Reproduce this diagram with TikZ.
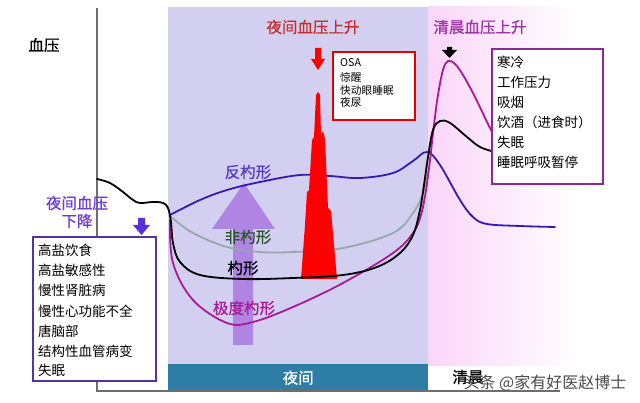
\documentclass[tikz,border=0pt]{standalone}
\usepackage{fontspec}
\setmainfont{Noto Sans CJK SC}
\newfontfamily\heavycjk[FakeBold=0.8]{Noto Sans CJK SC}
\begin{document}
\begin{tikzpicture}[x=1pt,y=-1pt,
  lbl/.style={inner sep=0pt, font=\heavycjk\fontsize{15.5}{16}\selectfont},
  boxtxt/.style={inner sep=0pt, anchor=west, font=\fontsize{13.5}{14}\selectfont},
  redtxt/.style={inner sep=0pt, anchor=west, font=\fontsize{10.7}{11}\selectfont},
  frame/.style={draw, line width=1.8pt, fill=white, inner sep=0pt},
  curve/.style={line width=1.8pt, line join=round, line cap=round}]
\definecolor{lav}{RGB}{211,207,240}
\definecolor{pinkbg}{RGB}{250,214,248}
\definecolor{barc}{RGB}{45,125,165}
\definecolor{bluec}{RGB}{55,25,180}
\definecolor{magc}{RGB}{170,25,150}
\definecolor{grayc}{RGB}{150,168,172}
\definecolor{arrc}{RGB}{176,132,226}
\definecolor{purtxt}{RGB}{110,60,210}
\definecolor{redtitle}{RGB}{200,45,45}
\definecolor{mortitle}{RGB}{160,50,170}
\definecolor{leftbox}{RGB}{85,50,165}
\definecolor{rightbox}{RGB}{140,40,150}
\definecolor{greentxt}{RGB}{45,85,45}
\definecolor{axisc}{RGB}{110,110,110}
\useasboundingbox (0,0) rectangle (640,403);
\fill[white] (0,0) rectangle (640,403);
% backgrounds
\fill[lav] (168,7) rectangle (428,364);
\shade[left color=pinkbg, right color=white] (428,7) rectangle (578,365);
\node[fill=barc, minimum width=260, minimum height=27, inner sep=0pt, anchor=north west] (bar) at (168,364) {};
\node[lbl, text=white] (night) at (bar.center) {夜间};
% axes
\coordinate (ytop) at (97,8);
\coordinate (orig) at (97,391);
\coordinate (xend) at (560,391);
\draw[axisc, line width=1.2pt] (ytop) -- (orig) -- (xend);
% big arrow
\fill[arrc] (233,345) -- (233,229) -- (212,229) -- (244,183) -- (275,229) -- (253,229) -- (253,345) -- cycle;
% curves
\draw[curve, grayc] plot[smooth, tension=0.6] coordinates {(170,216) (193,233) (227,247) (260,252) (293,252) (343,248) (393,233) (413,213) (423,193) (428,172)};
\draw[curve, bluec] plot[smooth, tension=0.6] coordinates {(170,215) (200,200) (227,190) (260,182) (300,175) (330,176) (360,178) (393,173) (413,161) (427,152) (440,165) (460,200) (473,217) (487,224) (520,226) (555,227)};
\draw[curve, magc] plot[smooth, tension=0.6] coordinates {(170,220) (173,263) (193,300) (227,323) (253,322) (293,307) (343,283) (393,253) (413,233) (421,215) (426,190) (430,160) (434,125) (438,95) (443,70) (448,61) (455,64) (463,75) (475,97) (490,128) (500,145)};
% red spike
\fill[red] (301,279) -- (305,225) -- (307,192) -- (309,190) -- (312,140) -- (314,137) -- (316,95) -- (318,92) -- (320,95) -- (321,135) -- (323,131) -- (325,139) -- (328,208) -- (331,211) -- (337,279) -- cycle;
\draw[curve, black] plot[smooth, tension=0.6] coordinates {(97,179) (110,183) (123,192) (133,200) (140,203) (153,202) (163,203) (168,208) (171,222) (173,243) (180,262) (200,275) (243,279) (293,278) (343,275) (377,267) (400,253) (413,235) (420,210) (424,185) (428,157) (433,130) (440,121) (450,123) (467,137) (480,147) (495,152)};
% small down arrows
\fill[purtxt!80!blue] (138,218) -- (145,218) -- (145,225) -- (150,225) -- (141.5,235) -- (133,225) -- (138,225) -- cycle;
\fill[red] (315,48) -- (321,48) -- (321,59) -- (325,59) -- (318,70) -- (311,59) -- (315,59) -- cycle;
\fill[black] (447,47) -- (452,47) -- (452,50) -- (457,50) -- (449.5,58) -- (442,50) -- (447,50) -- cycle;
% titles
\node[lbl] (bp) at (44,45) {血压};
\node[lbl, text=purtxt, align=center, font=\heavycjk\fontsize{15.5}{18}\selectfont] (dip) at (77,212) {夜间血压\\下降};
\node[lbl, text=redtitle] (nrise) at (313,27) {夜间血压上升};
\node[lbl, text=mortitle] (mrise) at (480,27) {清晨血压上升};
% left box
\node[frame, draw=leftbox, minimum width=123, minimum height=144, anchor=north west] (lbox) at (32,236) {};
\node[boxtxt] (l1) at (38,250) {高盐饮食};
\node[boxtxt] (l2) at (38,270) {高盐敏感性};
\node[boxtxt] (l3) at (38,290) {慢性肾脏病};
\node[boxtxt] (l4) at (38,311) {慢性心功能不全};
\node[boxtxt] (l5) at (38,331) {唐脑部};
\node[boxtxt] (l6) at (38,351) {结构性血管病变};
\node[boxtxt] (l7) at (38,370) {失眠};
% red box
\node[frame, draw=red!90!black, minimum width=82, minimum height=68, anchor=north west] (rbox) at (332,51) {};
\node[redtxt] (r1) at (340,63) {OSA};
\node[redtxt] (r2) at (340,77) {惊醒};
\node[redtxt] (r3) at (340,90) {快动眼睡眠};
\node[redtxt] (r4) at (340,102) {夜尿};
% right box
\node[frame, draw=rightbox, minimum width=111, minimum height=135, anchor=north west] (mbox) at (491,48) {};
\node[boxtxt] (m1) at (497,62) {寒冷};
\node[boxtxt] (m2) at (497,82) {工作压力};
\node[boxtxt] (m3) at (497,102) {吸烟};
\node[boxtxt] (m4) at (497,122) {饮酒（进食时）};
\node[boxtxt] (m5) at (497,142) {失眠};
\node[boxtxt] (m6) at (497,162) {睡眠呼吸暂停};
% curve labels
\node[lbl, text=bluec!85!white] (rev) at (248,172) {反杓形};
\node[lbl, text=greentxt] (non) at (248,237) {非杓形};
\node[lbl, text=black] (dipr) at (243,268) {杓形};
\node[lbl, text=magc] (ext) at (244,308) {极度杓形};
% bottom right
\node[lbl] (morn) at (468,377) {清晨};
\node[inner sep=0pt, text=black!70, font=\fontsize{16}{16}\selectfont] (wm) at (545,383) {头条 @家有好医赵博士};
\end{tikzpicture}
\end{document}
